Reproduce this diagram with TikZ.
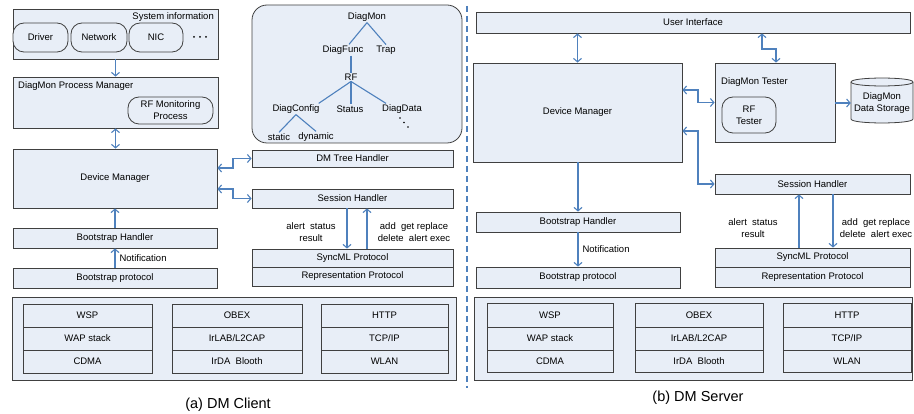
\documentclass[tikz,border=0pt]{standalone}
\usepackage{fontspec}
\setmainfont{Liberation Sans}
\usetikzlibrary{arrows.meta,calc}
\definecolor{boxfill}{RGB}{232,238,247}
\definecolor{boxline}{RGB}{64,64,64}
\definecolor{arrowc}{RGB}{79,129,189}
\newcommand{\dmfont}{\fontsize{9.5}{12}\selectfont}
\tikzset{
  box/.style={draw=boxline, fill=boxfill, line width=0.8pt, inner sep=0pt, font=\dmfont, text=black},
  oval/.style={box, rounded corners=11pt, align=center},
  lbl/.style={font=\dmfont, inner sep=1pt, text=black},
  tn/.style={font=\dmfont, inner sep=1pt, text=black},
  cell/.style={box},
  arr/.style={draw=arrowc, line width=1.1pt, >={Straight Barb[length=3.5pt,width=8pt]}},
  tedge/.style={draw=arrowc, line width=1.1pt},
  sep/.style={draw=arrowc, line width=1.1pt, dash pattern=on 6pt off 4pt},
}
\begin{document}
\begin{tikzpicture}[x=1pt,y=-1pt]
\useasboundingbox (0,0) rectangle (914,414);
% ================= CLIENT =================
\node[box, minimum width=205pt, minimum height=50pt] (sys) at (115.5,34) {};
\node[lbl, anchor=east] (syslbl) at (215,17) {System information};
\node[oval, minimum width=55pt, minimum height=29pt] (drv) at (40.5,37.5) {Driver};
\node[oval, minimum width=56pt, minimum height=29pt] (net) at (99,37.5) {Network};
\node[oval, minimum width=54pt, minimum height=29pt] (nic) at (156,37.5) {NIC};
\fill[black] (194,37) circle (1pt) (200,37) circle (1pt) (206,37) circle (1pt);

\node[box, minimum width=205pt, minimum height=51pt] (pm) at (115.5,102.5) {};
\node[lbl, anchor=west] (pmlbl) at (17,86) {DiagMon Process Manager};
\node[oval, minimum width=85pt, minimum height=27pt] (rfmp) at (170.5,110.5) {RF Monitoring\\Process};

\node[box, minimum width=204pt, minimum height=59pt] (dmc) at (115,178.5) {Device Manager};
\node[box, minimum width=204pt, minimum height=20pt] (bsh) at (115,238) {Bootstrap Handler};
\node[box, minimum width=204pt, minimum height=20pt] (bsp) at (115,278) {Bootstrap protocol};

\node[box, minimum width=201pt, minimum height=17pt] (treeh) at (352.5,158.5) {DM Tree Handler};
\node[box, minimum width=201pt, minimum height=19pt] (sessc) at (352.5,198.5) {Session Handler};
\node[box, minimum width=201pt, minimum height=18pt] (sync) at (352.5,258) {SyncML Protocol};
\node[box, minimum width=201pt, minimum height=19pt] (rep) at (352.5,276.5) {Representation Protocol};

% tree
\node[box, rounded corners=15pt, minimum width=210pt, minimum height=138pt] (treebox) at (357,74) {};
\node[tn] (dmon) at (367,17) {DiagMon};
\node[tn] (dfunc) at (343,50) {DiagFunc};
\node[tn] (trap) at (386,50) {Trap};
\node[tn] (rf) at (351,77) {RF};
\node[tn] (dconf) at (296,109) {DiagConfig};
\node[tn] (status) at (350,109) {Status};
\node[tn] (ddata) at (402,109) {DiagData};
\node[tn] (static) at (279,137) {static};
\node[tn] (dyn) at (316,137) {dynamic};
\draw[tedge] (dmon.south) -- ([xshift=6pt]dfunc.north);
\draw[tedge] (dmon.south) -- (trap.north);
\draw[tedge] (rf.north |- dfunc.south) -- (rf.north);
\draw[tedge] (rf.south) -- ([xshift=-2pt]dconf.north east);
\draw[tedge] (rf.south) -- (rf.south |- status.north);
\draw[tedge] (rf.south) -- ([xshift=5pt]ddata.north west);
\draw[tedge] (dconf.south) -- (static.north);
\draw[tedge] (dconf.south) -- (dyn.north);
\fill[black] (400,118) circle (0.9pt) (404,122.5) circle (0.9pt) (408,127) circle (0.9pt);

% client arrows
\draw[arr,->] (sys.south) -- (pm.north);
\draw[arr,<->] (pm.south) -- (pm.south |- dmc.north);
\draw[arr,->] (bsh.north) -- (dmc.south);
\draw[arr,->] (bsp.north) -- (bsh.south) node[lbl, midway, right=3pt] (notc) {Notification};
\draw[arr,<->] (dmc.east |- 0,168) -- (233,168) |- (treeh.west);
\draw[arr,<->] (dmc.east |- 0,189) -- (233,189) |- (sessc.west);
\draw[arr,->] (sessc.south -| 347,0) -- (sync.north -| 347,0);
\draw[arr,->] (sync.north -| 367,0) -- (sessc.south -| 367,0);
\node[lbl, align=center] (cl1) at (311,232) {alert\ \ status\\result};
\node[lbl, align=center] (cl2) at (414,232) {add\ \ get\ replace\\delete\ \ alert\ exec};

% client bottom
\node[box, minimum width=444pt, minimum height=83pt] (cbot) at (234,338.5) {};
\node[cell, minimum width=129pt, minimum height=23pt] (c11) at (87.5,315.5) {WSP};
\node[cell, minimum width=129pt, minimum height=23pt] (c12) at (87.5,338.5) {WAP stack};
\node[cell, minimum width=129pt, minimum height=23pt] (c13) at (87.5,361.5) {CDMA};
\node[cell, minimum width=130pt, minimum height=23pt] (c21) at (237,315.5) {OBEX};
\node[cell, minimum width=130pt, minimum height=23pt] (c22) at (237,338.5) {IrLAB/L2CAP};
\node[cell, minimum width=130pt, minimum height=23pt] (c23) at (237,361.5) {IrDA\ \ Blooth};
\node[cell, minimum width=127pt, minimum height=23pt] (c31) at (384.5,315.5) {HTTP};
\node[cell, minimum width=127pt, minimum height=23pt] (c32) at (384.5,338.5) {TCP/IP};
\node[cell, minimum width=127pt, minimum height=23pt] (c33) at (384.5,361.5) {WLAN};
\node[font=\fontsize{14.5}{16}\selectfont, inner sep=0pt] (capa) at (228,405) {(a) DM Client};

% separator
\draw[sep] (467,6) -- (467,388);

% ================= SERVER =================
\node[box, minimum width=434pt, minimum height=21pt] (ui) at (693,22.5) {User Interface};
\node[box, minimum width=209pt, minimum height=99pt] (dms) at (577.5,112.5) {Device Manager};
\node[box, minimum width=120pt, minimum height=79pt] (tester) at (775,102.5) {};
\node[lbl, anchor=west] (testerlbl) at (720,82) {DiagMon Tester};
\node[oval, minimum width=54pt, minimum height=36pt] (rft) at (749,115) {RF\\Tester};
% storage cylinder
\path[box] (851,82) .. controls (851,76.7) and (913,76.7) .. (913,82) -- (913,119)
   .. controls (913,124.3) and (851,124.3) .. (851,119) -- cycle;
\draw[draw=boxline, line width=0.8pt] (851,82) .. controls (851,87.3) and (913,87.3) .. (913,82);
\node[lbl, align=center, minimum width=62pt, inner sep=0pt] (stor) at (882,103) {DiagMon\\Data Storage};

\node[box, minimum width=195pt, minimum height=20pt] (sess) at (812.5,184) {Session Handler};
\node[box, minimum width=204pt, minimum height=20pt] (bsh2) at (578,222) {Bootstrap Handler};
\node[box, minimum width=204pt, minimum height=21pt] (bsp2) at (578,277.5) {Bootstrap protocol};
\node[box, minimum width=195pt, minimum height=19pt] (sync2) at (812.5,257.5) {SyncML Protocol};
\node[box, minimum width=195pt, minimum height=20pt] (rep2) at (812.5,277) {Representation Protocol};

% server arrows
\draw[arr,<->] (ui.south -| dms.north) -- (dms.north);
\draw[arr,<->] (ui.south -| 762,0) |- (776,49) -- (tester.north -| 776,0);
\draw[arr,<->] (dms.east |- 0,90) -- (698,90) |- (tester.west);
\draw[arr,<->] (dms.east |- 0,131) -- (698,131) |- (sess.west);
\draw[arr,->] (tester.east |- stor.west) -- (stor.west);
\draw[arr,->] (bsh2.north |- dms.south) -- (bsh2.north);
\draw[arr,->] (bsh2.south) -- (bsp2.north) node[lbl, midway, right=3pt] (nots) {Notification};
\draw[arr,->] (sync2.north -| 799,0) -- (sess.south -| 799,0);
\draw[arr,->] (sess.south -| 833,0) -- (sync2.north -| 833,0);
\node[lbl, align=center] (sl1) at (753,228) {alert\ \ status\\result};
\node[lbl, align=center] (sl2) at (876,228) {add\ \ get\ replace\\delete\ \ alert\ exec};

% server bottom
\node[box, minimum width=438pt, minimum height=83pt] (sbot) at (693,338.5) {};
\node[cell, minimum width=126pt, minimum height=24pt] (s11) at (550,315) {WSP};
\node[cell, minimum width=126pt, minimum height=23pt] (s12) at (550,338.5) {WAP stack};
\node[cell, minimum width=126pt, minimum height=22pt] (s13) at (550,361) {CDMA};
\node[cell, minimum width=128pt, minimum height=24pt] (s21) at (699,315) {OBEX};
\node[cell, minimum width=128pt, minimum height=23pt] (s22) at (699,338.5) {IrLAB/L2CAP};
\node[cell, minimum width=128pt, minimum height=22pt] (s23) at (699,361) {IrDA\ \ Blooth};
\node[cell, minimum width=128pt, minimum height=24pt] (s31) at (847,315) {HTTP};
\node[cell, minimum width=128pt, minimum height=23pt] (s32) at (847,338.5) {TCP/IP};
\node[cell, minimum width=128pt, minimum height=22pt] (s33) at (847,361) {WLAN};
\node[font=\fontsize{14.5}{16}\selectfont, inner sep=0pt] (capb) at (698,398) {(b) DM Server};
\end{tikzpicture}
\end{document}
